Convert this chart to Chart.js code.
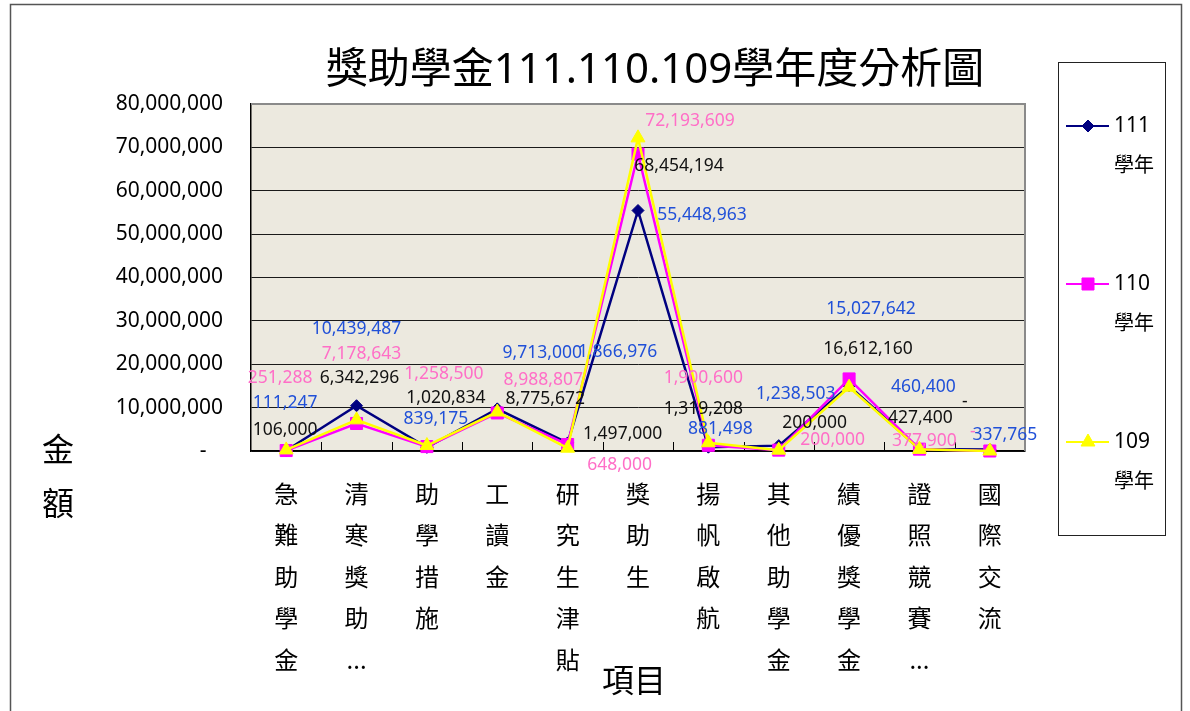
<!DOCTYPE html>
<html>
<head>
<meta charset="utf-8">
<title>獎助學金111.110.109學年度分析圖</title>
<script src="https://cdn.jsdelivr.net/npm/chart.js"></script>
<style>
  html, body { margin: 0; padding: 0; background: #fff; }
  #wrap { width: 1190px; height: 711px; }
</style>
</head>
<body>
<div id="wrap"><canvas id="grafico" width="1190" height="711"></canvas></div>
<script>
// categorias (cada caractere em uma linha, como no original)
const categorias = [
  ['急','難','助','學','金'],
  ['清','寒','獎','助','...'],
  ['助','學','措','施'],
  ['工','讀','金'],
  ['研','究','生','津','貼'],
  ['獎','助','生'],
  ['揚','帆','啟','航'],
  ['其','他','助','學','金'],
  ['績','優','獎','學','金'],
  ['證','照','競','賽','...'],
  ['國','際','交','流']
];
const series = ['111學年', '110學年', '109學年'];
const valores111 = [111247, 10439487, 839175, 9713000, 1866976, 55448963, 881498, 1238503, 15027642, 460400, 337765];
const valores110 = [106000, 6342296, 1020834, 8775672, 1497000, 68454194, 1319208, 200000, 16612160, 427400, 0];
const valores109 = [251288, 7178643, 1258500, 8988807, 648000, 72193609, 1900600, 200000, 14700000, 377900, 0];
const yMax = 80000000;
const yPasso = 10000000;
const titulo = '獎助學金111.110.109學年度分析圖';
const tituloY = ['金', '額'];
const tituloX = '項目';

// deslocamento dos rotulos de dados (dx, dy) em relacao ao ponto; null = sem rotulo
const desloc111 = [[-1,-48],[0,-77],[9,-28],[45,-56],[50,-91],[64,5],[12,-18],[17,-52],[22,-77],[4,-62],[15,-15]];
const desloc110 = [[-1,-21],[3,-45],[19,-49],[48,-14],[55,-10],[41,12],[-5,-36],[36,-27],[19,-30],[1,-31],[-25,-49]];
const desloc109 = [[-6,-72],[5,-66],[17,-72],[46,-32],[52,17],[52,-17],[-5,-65],[54,-10],null,[5,-8],[-17,-19]];

const FONTE_NUM = '"Noto Sans", "Noto Sans CJK TC", sans-serif';
const FONTE_CJK = '"Noto Sans CJK TC", "Noto Sans", sans-serif';

function formata(v) {
  return v === 0 ? '-' : v.toLocaleString('en-US');
}

const fundoPlugin = {
  id: 'fundo',
  beforeDraw(chart) {
    const ctx = chart.ctx;
    const a = chart.chartArea;
    ctx.save();
    ctx.fillStyle = '#ffffff';
    ctx.fillRect(0, 0, chart.width, chart.height);
    ctx.strokeStyle = '#555';
    ctx.lineWidth = 1.5;
    ctx.strokeRect(10.5, 4.5, 1171, 720);
    ctx.fillStyle = '#ECE9DF';
    ctx.fillRect(a.left, a.top, a.right - a.left, a.bottom - a.top);
    ctx.restore();
  },
  beforeDatasetsDraw(chart) {
    const ctx = chart.ctx;
    const a = chart.chartArea;
    const x = chart.scales.x;
    ctx.save();
    // borda cinza em cima e a direita
    ctx.strokeStyle = '#8a8a8a';
    ctx.lineWidth = 2;
    ctx.beginPath();
    ctx.moveTo(a.left, a.top);
    ctx.lineTo(a.right, a.top);
    ctx.lineTo(a.right, a.bottom);
    ctx.stroke();
    // marcas entre categorias
    ctx.strokeStyle = '#000';
    ctx.lineWidth = 1;
    for (let i = 1; i < categorias.length; i++) {
      const px = Math.round((x.getPixelForValue(i - 1) + x.getPixelForValue(i)) / 2) + 0.5;
      ctx.beginPath();
      ctx.moveTo(px, a.bottom);
      ctx.lineTo(px, a.bottom - 9);
      ctx.stroke();
    }
    ctx.restore();
  },
  afterDraw(chart) {
    const ctx = chart.ctx;
    ctx.save();
    ctx.fillStyle = '#000';
    ctx.textAlign = 'center';
    ctx.textBaseline = 'middle';
    ctx.font = '42px ' + FONTE_NUM;
    ctx.fillText(titulo, 655, 71);
    ctx.font = '32px ' + FONTE_CJK;
    ctx.fillText(tituloY[0], 58, 449);
    ctx.fillText(tituloY[1], 58, 503);
    ctx.fillText(tituloX, 634, 680);
    ctx.restore();
  }
};

const rotulosPlugin = {
  id: 'rotulos',
  afterDatasetsDraw(chart) {
    const ctx = chart.ctx;
    ctx.save();
    ctx.font = '17.5px ' + FONTE_NUM;
    ctx.textAlign = 'center';
    ctx.textBaseline = 'middle';
    chart.data.datasets.forEach(function(ds, d) {
      const meta = chart.getDatasetMeta(d);
      ctx.fillStyle = ds.corRotulo;
      meta.data.forEach(function(p, i) {
        const off = ds.desloc[i];
        if (!off) return;
        ctx.fillText(formata(ds.data[i]), p.x + off[0], p.y + off[1]);
      });
    });
    ctx.restore();
  }
};

const legendaPlugin = {
  id: 'legendaCaixa',
  afterDraw(chart) {
    const ctx = chart.ctx;
    const caixa = {x: 1058.5, y: 62.5, w: 107, h: 473};
    ctx.save();
    ctx.strokeStyle = '#222';
    ctx.lineWidth = 1;
    ctx.strokeRect(caixa.x, caixa.y, caixa.w, caixa.h);
    chart.data.datasets.forEach(function(ds, d) {
      const cy = 126 + d * 158;
      ctx.strokeStyle = ds.borderColor;
      ctx.lineWidth = 2;
      ctx.beginPath();
      ctx.moveTo(1066, cy);
      ctx.lineTo(1109, cy);
      ctx.stroke();
      ctx.fillStyle = ds.pointBackgroundColor;
      ctx.strokeStyle = ds.pointBorderColor;
      ctx.lineWidth = 1;
      Chart.helpers.drawPoint(ctx, {pointStyle: ds.pointStyle, radius: ds.pointRadius, rotation: 0, borderWidth: 1}, 1088, cy);
      const partes = ds.label.match(/^(\d+)(.*)$/);
      ctx.fillStyle = '#000';
      ctx.textAlign = 'left';
      ctx.textBaseline = 'middle';
      ctx.font = '21px ' + FONTE_NUM;
      ctx.fillText(partes[1], 1114, cy);
      ctx.font = '20px ' + FONTE_CJK;
      ctx.fillText(partes[2], 1114, cy + 38);
    });
    ctx.restore();
  }
};

function serie(label, dados, cor, estilo, raio, corRotulo, desloc, ordem) {
  return {
    label: label,
    data: dados,
    borderColor: cor,
    backgroundColor: cor,
    pointBackgroundColor: cor,
    pointBorderColor: cor,
    pointStyle: estilo,
    pointRadius: raio,
    pointBorderWidth: 1,
    borderWidth: 2.5,
    tension: 0,
    fill: false,
    clip: false,
    order: ordem,
    corRotulo: corRotulo,
    desloc: desloc
  };
}

const ctx = document.getElementById('grafico').getContext('2d');
const grafico = new Chart(ctx, {
  type: 'line',
  data: {
    labels: categorias,
    datasets: [
      serie(series[0], valores111, '#000080', 'rectRot', 6, '#2050D8', desloc111, 2),
      serie(series[1], valores110, '#FF00FF', 'rect', 8.5, '#111111', desloc110, 1),
      serie(series[2], valores109, '#FFFF00', 'triangle', 8, '#FF6EC7', desloc109, 0)
    ]
  },
  options: {
    responsive: false,
    animation: false,
    layout: { padding: { left: 10, right: 165, top: 104, bottom: 0 } },
    plugins: {
      legend: { display: false },
      title: { display: false },
      tooltip: { enabled: false }
    },
    scales: {
      x: {
        offset: true,
        grid: { display: false, drawTicks: false },
        border: { color: '#000', width: 1.5 },
        ticks: {
          color: '#000',
          font: { family: FONTE_CJK, size: 24, lineHeight: 1.73 },
          padding: 22,
          autoSkip: false,
          maxRotation: 0
        },
        afterFit(s) { s.height = 260; }
      },
      y: {
        min: 0,
        max: yMax,
        grid: { color: '#1a1a1a', lineWidth: 1, drawTicks: false },
        border: { color: '#000', width: 1.5 },
        ticks: {
          stepSize: yPasso,
          color: '#000',
          font: { family: FONTE_NUM, size: 21 },
          padding: 28,
          callback: function(v) { return v === 0 ? '-   ' : v.toLocaleString('en-US'); }
        },
        afterFit(s) { s.width = 241; }
      }
    }
  },
  plugins: [fundoPlugin, rotulosPlugin, legendaPlugin]
});
</script>
</body>
</html>
